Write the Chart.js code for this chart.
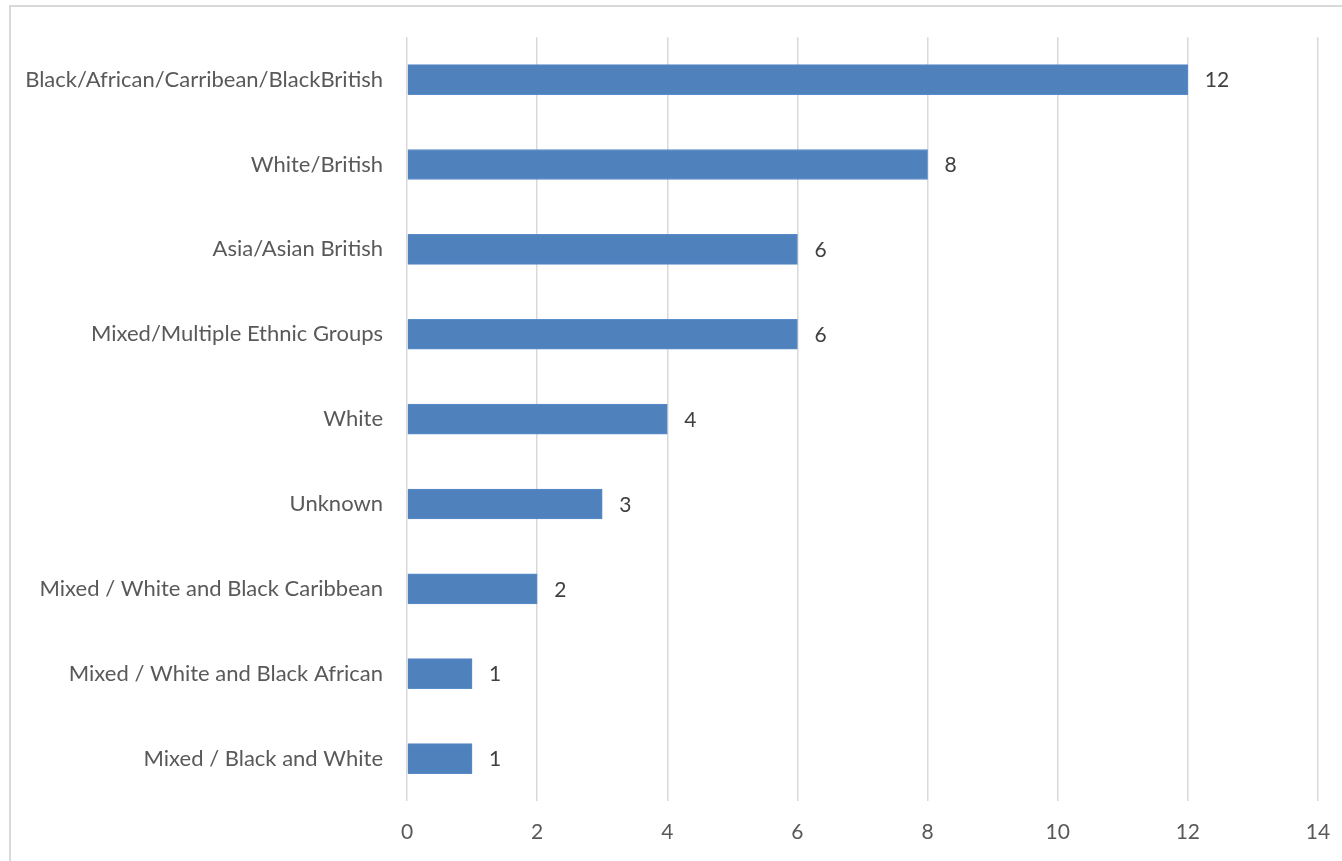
<!DOCTYPE html>
<html>
<head>
<meta charset="utf-8">
<script src="https://cdn.jsdelivr.net/npm/chart.js@4/dist/chart.umd.min.js"></script>
<style>
  html, body { margin: 0; padding: 0; background: #fff; }
  #frame { position: absolute; left: 9px; top: 5px; width: 1400px; height: 900px; border: 2px solid #d9d9d9; box-sizing: border-box; }
  #wrap { position: absolute; left: 0; top: 0; width: 1342px; height: 861px; }
</style>
</head>
<body>
<div id="frame"></div>
<div id="wrap"><canvas id="myChart" width="1342" height="861"></canvas></div>
<script>
// ethnic groups, top to bottom
var categories = [
  "Black/African/Carribean/BlackBritish",
  "White/British",
  "Asia/Asian British",
  "Mixed/Multiple Ethnic Groups",
  "White",
  "Unknown",
  "Mixed / White and Black Caribbean",
  "Mixed / White and Black African",
  "Mixed / Black and White"
];
var counts = [12, 8, 6, 6, 4, 3, 2, 1, 1];
var xTicks = [0, 2, 4, 6, 8, 10, 12, 14];

var fontFamily = "Lato, 'Open Sans', sans-serif";

// value labels at the end of each bar
var valueLabels = {
  id: "valueLabels",
  afterDatasetsDraw: function(chart) {
    var ctx = chart.ctx;
    var meta = chart.getDatasetMeta(0);
    ctx.save();
    ctx.font = "21px " + fontFamily;
    ctx.fillStyle = "#404040";
    ctx.textAlign = "left";
    ctx.textBaseline = "middle";
    meta.data.forEach(function(bar, i) {
      ctx.fillText(String(counts[i]), bar.x + 17, bar.y + 1);
    });
    ctx.restore();
  }
};

new Chart("myChart", {
  type: "bar",
  data: {
    labels: categories,
    datasets: [{
      data: counts,
      backgroundColor: "#4f81bd",
      borderColor: "#5a8ccc",
      borderWidth: 1,
      barThickness: 30
    }]
  },
  plugins: [valueLabels],
  options: {
    indexAxis: "y",
    responsive: false,
    animation: false,
    layout: { padding: { top: 34, right: 24, left: 0, bottom: 0 } },
    plugins: {
      legend: { display: false },
      tooltip: { enabled: false }
    },
    scales: {
      x: {
        min: 0,
        max: 14,
        afterBuildTicks: function(axis) {
          axis.ticks = xTicks.map(function(v) { return { value: v }; });
        },
        afterFit: function(axis) {
          axis.height = 60;
          axis.paddingLeft = 0;
          axis.paddingRight = 0;
        },
        grid: { color: "#d9d9d9", lineWidth: 1.5, drawTicks: false },
        border: { display: false },
        ticks: {
          padding: 19,
          color: "#595959",
          font: { family: fontFamily, size: 21 }
        }
      },
      y: {
        afterFit: function(axis) { axis.width = 407; },
        grid: { display: false, drawTicks: false },
        border: { display: false },
        ticks: {
          padding: 24,
          color: "#595959",
          font: { family: fontFamily, size: 22 }
        }
      }
    }
  }
});
</script>
</body>
</html>
